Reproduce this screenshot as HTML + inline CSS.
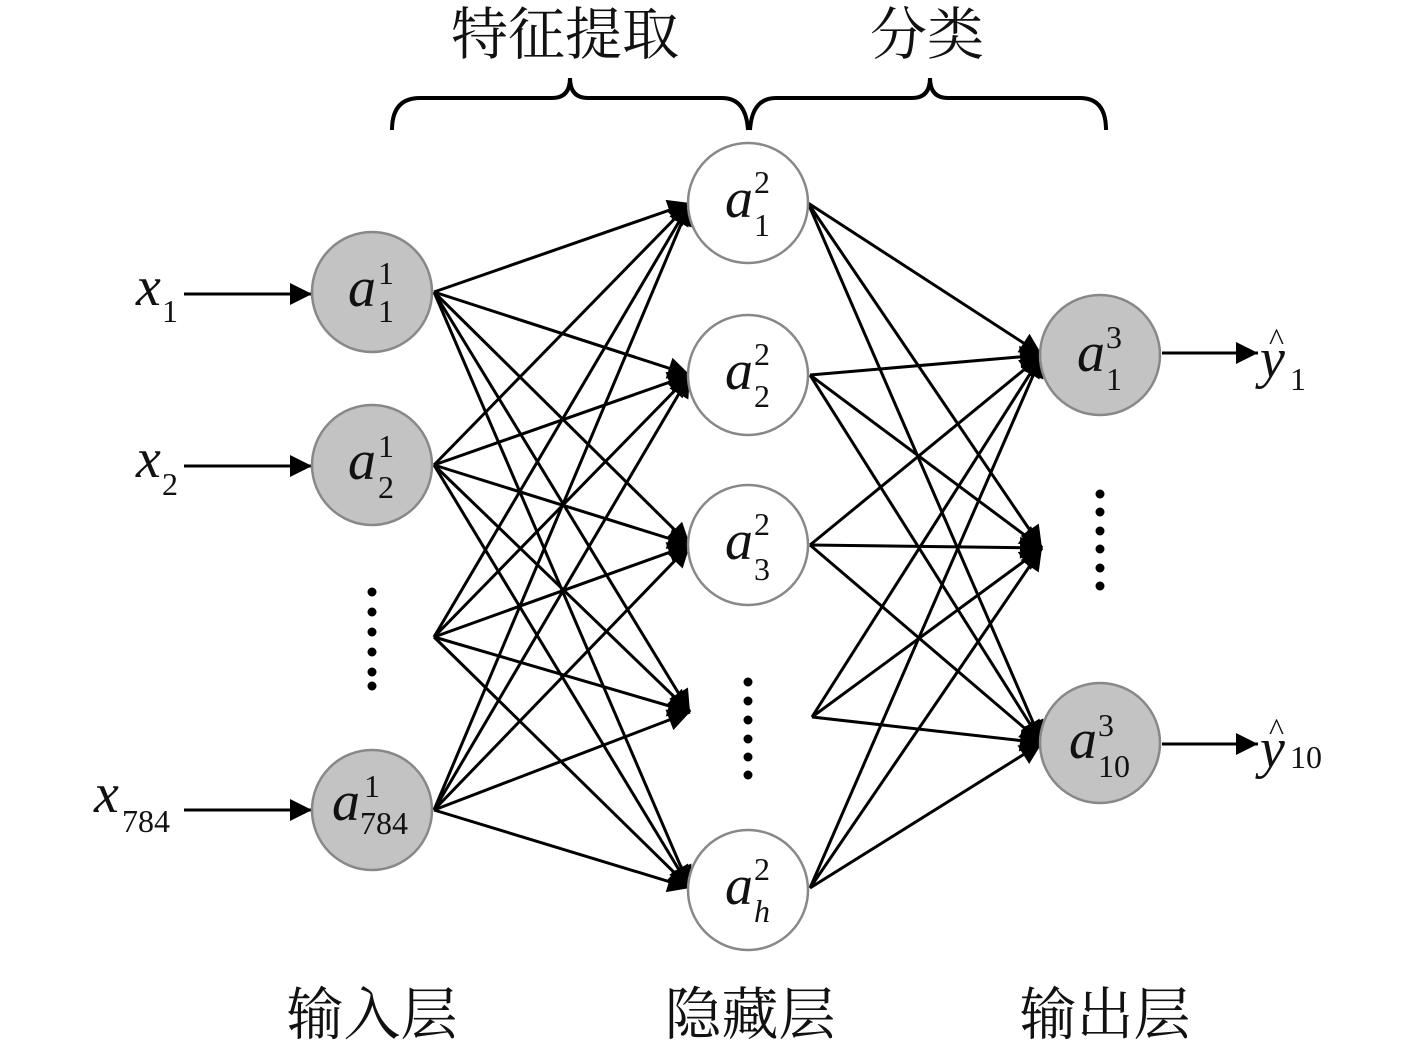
<!DOCTYPE html>
<html><head><meta charset="utf-8"><style>
html,body{margin:0;padding:0;background:#fff;}
svg{display:block}
.m{font-family:"Liberation Serif",serif;font-style:italic;font-size:56px;fill:#111}
.s{font-family:"Liberation Serif",serif;font-size:32px;fill:#111}
.c{font-family:"Liberation Serif","Noto Serif CJK SC","Noto Sans CJK SC",serif;font-size:57px;fill:#111}
</style></head><body>
<svg width="1417" height="1046" viewBox="0 0 1417 1046" xmlns="http://www.w3.org/2000/svg">
<defs>
<marker id="ar2" viewBox="0 0 10 10" refX="10" refY="5" markerWidth="24" markerHeight="22" markerUnits="userSpaceOnUse" orient="auto">
<path d="M0,0 L10,5 L0,10 z" fill="#000"/></marker>
</defs>
<g stroke="#000" stroke-width="3" fill="none">
<g marker-end="url(#ar2)">
<line x1="434" y1="292" x2="690" y2="203"/><line x1="434" y1="292" x2="690" y2="375"/><line x1="434" y1="292" x2="690" y2="545"/><line x1="434" y1="292" x2="690" y2="712"/><line x1="434" y1="292" x2="690" y2="888"/>
<line x1="434" y1="465" x2="690" y2="203"/><line x1="434" y1="465" x2="690" y2="375"/><line x1="434" y1="465" x2="690" y2="545"/><line x1="434" y1="465" x2="690" y2="712"/><line x1="434" y1="465" x2="690" y2="888"/>
<line x1="434" y1="637" x2="690" y2="203"/><line x1="434" y1="637" x2="690" y2="375"/><line x1="434" y1="637" x2="690" y2="545"/><line x1="434" y1="637" x2="690" y2="712"/><line x1="434" y1="637" x2="690" y2="888"/>
<line x1="434" y1="810" x2="690" y2="203"/><line x1="434" y1="810" x2="690" y2="375"/><line x1="434" y1="810" x2="690" y2="545"/><line x1="434" y1="810" x2="690" y2="712"/><line x1="434" y1="810" x2="690" y2="888"/>
</g>
<g marker-end="url(#ar2)">
<line x1="808" y1="203" x2="1042" y2="355"/><line x1="808" y1="203" x2="1042" y2="548"/><line x1="808" y1="203" x2="1042" y2="743"/>
<line x1="810" y1="375" x2="1042" y2="355"/><line x1="810" y1="375" x2="1042" y2="548"/><line x1="810" y1="375" x2="1042" y2="743"/>
<line x1="810" y1="545" x2="1042" y2="355"/><line x1="810" y1="545" x2="1042" y2="548"/><line x1="810" y1="545" x2="1042" y2="743"/>
<line x1="812" y1="717" x2="1042" y2="355"/><line x1="812" y1="717" x2="1042" y2="548"/><line x1="812" y1="717" x2="1042" y2="743"/>
<line x1="810" y1="888" x2="1042" y2="355"/><line x1="810" y1="888" x2="1042" y2="548"/><line x1="810" y1="888" x2="1042" y2="743"/>
</g>
<g marker-end="url(#ar2)">
<line x1="184" y1="294" x2="312" y2="294"/><line x1="184" y1="466" x2="312" y2="466"/><line x1="184" y1="810" x2="312" y2="810"/>
<line x1="1162" y1="353" x2="1258" y2="353"/><line x1="1162" y1="744" x2="1258" y2="744"/>
</g>
<g stroke-width="4">
<path d="M392,130 Q392,98 420,98 L552,98 Q570,98 570,78 Q570,98 588,98 L722,98 Q746,98 748,130" />
<path d="M750,130 Q752,98 776,98 L912,98 Q930,98 930,78 Q930,98 948,98 L1080,98 Q1106,98 1106,130" />
</g>
</g>
<g stroke="#888" stroke-width="2.5">
<circle cx="372" cy="292" r="60" fill="#c3c3c3"/>
<circle cx="372" cy="465" r="60" fill="#c3c3c3"/>
<circle cx="372" cy="810" r="60" fill="#c3c3c3"/>
<circle cx="748" cy="203" r="60" fill="#fff"/>
<circle cx="748" cy="375" r="60" fill="#fff"/>
<circle cx="748" cy="545" r="60" fill="#fff"/>
<circle cx="748" cy="890" r="60" fill="#fff"/>
<circle cx="1100" cy="355" r="60" fill="#c3c3c3"/>
<circle cx="1100" cy="743" r="60" fill="#c3c3c3"/>
</g>
<g fill="#000">
<circle cx="372" cy="592" r="4.5"/><circle cx="372" cy="612" r="4.5"/><circle cx="372" cy="632" r="4.5"/><circle cx="372" cy="652" r="4.5"/><circle cx="372" cy="672" r="4.5"/><circle cx="372" cy="686" r="4.5"/>
<circle cx="748" cy="682" r="4.5"/><circle cx="748" cy="701" r="4.5"/><circle cx="748" cy="720" r="4.5"/><circle cx="748" cy="739" r="4.5"/><circle cx="748" cy="757" r="4.5"/><circle cx="748" cy="775" r="4.5"/>
<circle cx="1100" cy="494" r="4.5"/><circle cx="1100" cy="512" r="4.5"/><circle cx="1100" cy="531" r="4.5"/><circle cx="1100" cy="549" r="4.5"/><circle cx="1100" cy="568" r="4.5"/><circle cx="1100" cy="586" r="4.5"/>
</g>
<text class="m" x="348" y="306">a</text><text class="s" x="378" y="284">1</text><text class="s" x="378" y="322">1</text>
<text class="m" x="348" y="479">a</text><text class="s" x="378" y="457">1</text><text class="s" x="378" y="498">2</text>
<text class="m" x="332" y="820">a</text><text class="s" x="364" y="797">1</text><text class="s" x="360" y="834">784</text>
<text class="m" x="725" y="217">a</text><text class="s" x="754" y="193">2</text><text class="s" x="754" y="236">1</text>
<text class="m" x="725" y="389">a</text><text class="s" x="754" y="365">2</text><text class="s" x="754" y="407">2</text>
<text class="m" x="725" y="559">a</text><text class="s" x="754" y="535">2</text><text class="s" x="754" y="580">3</text>
<text class="m" x="725" y="904">a</text><text class="s" x="754" y="880">2</text><text class="s" x="754" y="922" font-style="italic">h</text>
<text class="m" x="1077" y="371">a</text><text class="s" x="1106" y="348">3</text><text class="s" x="1106" y="390">1</text>
<text class="m" x="1069" y="758">a</text><text class="s" x="1098" y="736">3</text><text class="s" x="1098" y="777">10</text>
<text class="m" x="136" y="305">x</text><text class="s" x="162" y="322">1</text>
<text class="m" x="136" y="477">x</text><text class="s" x="162" y="495">2</text>
<text class="m" x="94" y="812">x</text><text class="s" x="122" y="832">784</text>
<text class="m" x="1260" y="377">y</text><text class="s" x="1269" y="350" font-size="34">^</text><text class="s" x="1290" y="390">1</text>
<text class="m" x="1260" y="767">y</text><text class="s" x="1269" y="740" font-size="34">^</text><text class="s" x="1290" y="768">10</text>
<text class="c" x="565" y="54" text-anchor="middle">特征提取</text>
<text class="c" x="927" y="54" text-anchor="middle">分类</text>
<text class="c" x="372" y="1034" text-anchor="middle">输入层</text>
<text class="c" x="750" y="1034" text-anchor="middle">隐藏层</text>
<text class="c" x="1105" y="1034" text-anchor="middle">输出层</text>
</svg>
</body></html>
